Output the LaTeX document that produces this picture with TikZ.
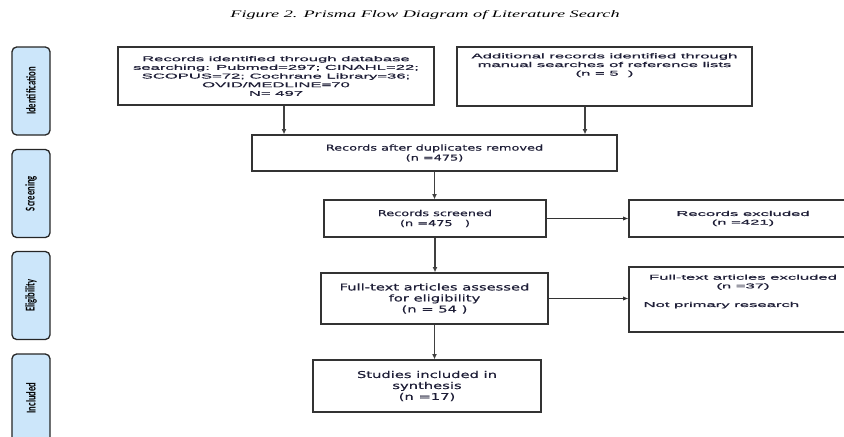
\documentclass[tikz,border=0pt]{standalone}
\usepackage{fontspec}
\usepackage{graphicx}
\usetikzlibrary{arrows.meta}
\setmainfont{Liberation Serif}
\newfontfamily\arialwide{Liberation Sans}[FakeStretch=2.37, FakeBold=0.6]
\newfontfamily\dejawide{DejaVu Sans}[FakeStretch=1.57, FakeBold=0.4]
\newfontfamily\titlewide{Liberation Serif}[FakeStretch=1.83]
\newfontfamily\phasefont{Carlito}
\definecolor{phaseBlue}{RGB}{204,230,250}
\definecolor{inkText}{RGB}{30,30,55}
\newcommand{\phasetext}[1]{\scalebox{1}[1.55]{#1}}

\begin{document}
\begin{tikzpicture}[x=0.03cm, y=-0.03cm,
  box/.style={draw=black!80, line width=1.1pt, fill=white, inner sep=0pt, align=center, text=inkText},
  arial/.style={font=\arialwide\fontsize{6}{7.4}\selectfont},
  deja/.style={font=\dejawide\fontsize{7}{8.5}\selectfont},
  dejabig/.style={font=\dejawide\fontsize{8}{9.4}\selectfont},
  phase/.style={draw=black!85, line width=1.1pt, rounded corners=4pt, fill=phaseBlue, rotate=90,
    minimum width=2.64cm, minimum height=1.14cm, inner sep=0pt, font=\phasefont\bfseries\fontsize{7.4}{8}\selectfont},
  arr/.style={-{Latex[length=1.6mm,width=1.5mm]}, line width=1.3pt, draw=black!75},
  thinarr/.style={-{Latex[length=1.6mm,width=1.3mm]}, line width=0.7pt, draw=black!80}]
\useasboundingbox (0,0) rectangle (844,436);
\clip (0,0) rectangle (844,436);

\node[font=\titlewide\itshape\fontsize{8.5}{10}\selectfont] (title) at (425,15) {Figure 2. Prisma Flow Diagram of Literature Search};

% phase labels on the left
\node[phase] (ident) at (31,91) {\phasetext{Identification}};
\node[phase] (screen) at (31,193.5) {\phasetext{Screening}};
\node[phase] (elig) at (31,295.5) {\phasetext{Eligibility}};
\node[phase] (incl) at (31,398) {\phasetext{Included}};

% flow boxes
\node[box, arial, minimum width=9.48cm, minimum height=1.74cm] (search) at (276,76) {Records identified through database\\searching: Pubmed=297; CINAHL=22;\\SCOPUS=72; Cochrane Library=36;\\OVID/MEDLINE=70\\N= 497};
\node[box, minimum width=8.85cm, minimum height=1.77cm,
  label={[arial, align=center, text=inkText, anchor=north, inner sep=0pt, yshift=-0.2cm]north:{Additional records identified through\\manual searches of reference lists\\(n = 5~~)}}] (manual) at (604.5,76.5) {};
\node[box, deja, minimum width=10.95cm, minimum height=1.08cm] (dedup) at (434.5,153) {Records after duplicates removed\\(n =475)};
\node[box, deja, minimum width=6.66cm, minimum height=1.11cm] (screened) at (435,218.5) {Records screened\\(n =475~~~)};
\node[box, arial, minimum width=6.84cm, minimum height=1.11cm] (excl) at (743,218.5) {Records excluded\\(n =421)};
\node[box, dejabig, minimum width=6.81cm, minimum height=1.53cm] (fulltext) at (434.5,298.5) {Full-text articles assessed\\for eligibility\\(n = 54~)};
\node[box, minimum width=6.84cm, minimum height=1.95cm,
  label={[arial, align=center, text=inkText, anchor=north, inner sep=0pt, yshift=-0.24cm]north:{Full-text articles excluded\\(n =37)}},
  label={[arial, text=inkText, anchor=west, inner sep=0pt, xshift=0.45cm, yshift=-0.17cm]west:Not primary research}] (ftexcl) at (743,299.5) {};
\node[box, dejabig, minimum width=6.84cm, minimum height=1.56cm] (included) at (427,386) {Studies included in\\synthesis\\(n =17)};

% connectors
\coordinate (searchout) at ([xshift=0.24cm]search.south);
\coordinate (manualout) at ([xshift=-0.585cm]manual.south);
\draw[arr] (searchout) -- (searchout |- dedup.north);
\draw[arr] (manualout) -- (manualout |- dedup.north);
\draw[arr] (dedup.south) -- (dedup.south |- screened.north);
\draw[thinarr] (screened.east) -- (screened.east -| excl.west);
\draw[arr] (screened.south) -- (screened.south |- fulltext.north);
\draw[thinarr] (fulltext.east) -- (fulltext.east -| ftexcl.west);
\draw[arr] (fulltext.south) -- (fulltext.south |- included.north);
\end{tikzpicture}
\end{document}
